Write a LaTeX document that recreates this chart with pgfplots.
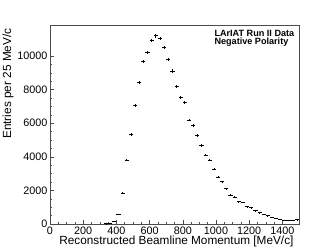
\documentclass[border=0pt]{standalone}
\usepackage{pgfplots}
\usepackage{pgfplotstable}
\pgfplotsset{compat=1.18}
\usepackage{fontspec}
\setmainfont{Liberation Sans}
\pgfplotstableread{
x y
337.5 10
362.5 60
387.5 170
412.5 595
437.5 1845
462.5 3810
487.5 5340
512.5 7040
537.5 8410
562.5 9660
587.5 10220
612.5 10930
637.5 11210
662.5 11050
687.5 10520
712.5 9780
737.5 9110
762.5 8190
787.5 7520
812.5 7220
837.5 6190
862.5 5870
887.5 5280
912.5 4680
937.5 4110
962.5 3810
987.5 3250
1012.5 2780
1037.5 2520
1062.5 2100
1087.5 1720
1112.5 1610
1137.5 1340
1162.5 1290
1187.5 1030
1212.5 970
1237.5 790
1262.5 670
1287.5 580
1312.5 500
1337.5 415
1362.5 340
1387.5 280
1412.5 240
1437.5 220
1462.5 220
1487.5 260
}\datatable
\begin{document}
\begin{tikzpicture}[x=1pt,y=1pt]
\begin{axis}[
  at={(50pt,26pt)}, anchor=south west,
  scale only axis, width=249pt, height=199pt,
  xmin=0, xmax=1500, ymin=0, ymax=11850,
  axis line style={black!70, line width=0.6pt},
  tick align=inside, tick pos=left,
  xtick={0,200,...,1400}, minor x tick num=3,
  ytick={0,2000,...,10000}, minor y tick num=3,
  major tick length=4pt, minor tick length=2pt,
  tick style={black!70, line width=0.5pt},
  scaled y ticks=false,
  /pgf/number format/assume math mode=true,
  /pgf/number format/1000 sep={},
  ticklabel style={font=\fontsize{10.8}{12}\selectfont},
  xticklabel style={yshift=1pt},
  yticklabel style={xshift=1pt},
  xlabel={Reconstructed Beamline Momentum [MeV/c]},
  ylabel={Entries per 25 MeV/c},
  label style={font=\fontsize{11.8}{13}\selectfont},
  xlabel style={at={(axis description cs:0.992,-0.1055)}, anchor=base east},
  ylabel style={at={(axis description cs:-0.1325,1)}, anchor=south east},
  clip=false,
]
\addplot[draw=none, mark=none, black,
  error bars/.cd, x dir=both, x fixed=12.5, y dir=both, y explicit,
  error mark=none, error bar style={line width=0.8pt, black, solid}]
  table[x=x, y=y, y error expr={sqrt(\thisrow{y})}] {\datatable};
\node[anchor=north west, align=left, font=\bfseries\fontsize{9.1}{8.6}\selectfont, inner sep=0pt]
  at (axis cs:990,11560) {LArIAT Run II Data\\Negative Polarity};
\end{axis}
\pgfresetboundingbox
\useasboundingbox (0,0) rectangle (332pt,250pt);
\end{tikzpicture}
\end{document}
